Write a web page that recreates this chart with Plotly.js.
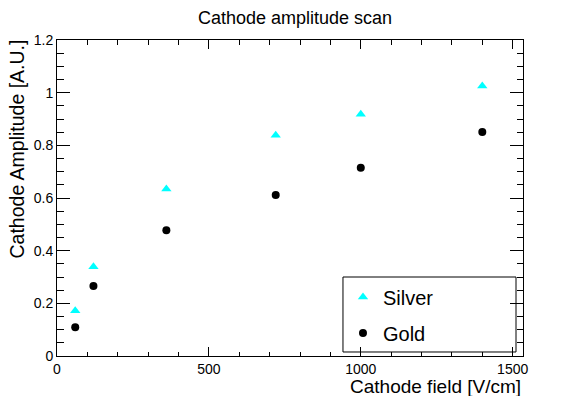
<!DOCTYPE html>
<html>
<head>
<meta charset="utf-8">
<script src="https://cdn.plot.ly/plotly-3.0.1.min.js"></script>
<style>html,body{margin:0;padding:0;background:#fff;}#chart{width:581px;height:396px;}</style>
</head>
<body>
<div id="chart"></div>
<script>
// Data
const fieldValues = [60, 120, 360, 720, 1000, 1400];
const silverAmplitude = [0.172, 0.339, 0.634, 0.838, 0.918, 1.025];
const goldAmplitude = [0.109, 0.266, 0.478, 0.611, 0.715, 0.851];
const seriesNames = ['Silver', 'Gold'];

const FONT = 'Liberation Sans, Arial, Helvetica, sans-serif';

const traces = [
  {
    x: fieldValues, y: silverAmplitude, name: seriesNames[0],
    type: 'scatter', mode: 'markers', legend: 'legend',
    marker: {symbol: 'triangle-up', size: 9, color: '#00ffff'}
  },
  {
    x: fieldValues, y: goldAmplitude, name: seriesNames[1],
    type: 'scatter', mode: 'markers', legend: 'legend2',
    marker: {symbol: 'circle', size: 8, color: '#000000'}
  }
];

const axisCommon = {
  showgrid: false, zeroline: false, showline: true, linecolor: '#000', linewidth: 1,
  mirror: 'allticks', ticks: 'inside', tickcolor: '#000', tickwidth: 1,
  tickfont: {family: FONT, size: 14, color: '#000'}
};

const layout = {
  width: 581, height: 396,
  margin: {l: 57, r: 58, t: 40, b: 40, pad: 0},
  paper_bgcolor: '#fff', plot_bgcolor: '#fff',
  font: {family: FONT, color: '#000'},
  showlegend: true,
  xaxis: Object.assign({}, axisCommon, {
    range: [0, 1534], tick0: 0, dtick: 500, ticklen: 9,
    minor: {dtick: 100, ticklen: 4.5, ticks: 'inside', tickcolor: '#000'}
  }),
  yaxis: Object.assign({}, axisCommon, {
    range: [0, 1.2], tick0: 0, dtick: 0.2, ticklen: 13,
    minor: {dtick: 0.05, ticklen: 6.5, ticks: 'inside', tickcolor: '#000'}
  }),
  legend: {
    x: 0.6137, y: 0.187, xanchor: 'left', yanchor: 'middle',
    bgcolor: 'rgba(0,0,0,0)', borderwidth: 0,
    font: {family: FONT, size: 20, color: '#000'}
  },
  legend2: {
    x: 0.6137, y: 0.073, xanchor: 'left', yanchor: 'middle',
    bgcolor: 'rgba(0,0,0,0)', borderwidth: 0,
    font: {family: FONT, size: 20, color: '#000'}
  },
  shapes: [{
    type: 'rect', xref: 'paper', yref: 'paper',
    x0: 0.6137, x1: 0.985, y0: 0.0127, y1: 0.25,
    line: {color: '#000', width: 1}, fillcolor: '#fff', layer: 'below'
  }],
  annotations: [
    {text: 'Cathode amplitude scan', xref: 'paper', yref: 'paper',
     x: (295 - 57) / 466, y: (356 - 18) / 316, xanchor: 'center', yanchor: 'middle',
     showarrow: false, font: {family: FONT, size: 18, color: '#000'}},
    {text: 'Cathode field [V/cm]', xref: 'paper', yref: 'paper',
     x: (523 - 57) / 466, y: (356 - 386) / 316, xanchor: 'right', yanchor: 'middle',
     showarrow: false, font: {family: FONT, size: 19, color: '#000'}},
    {text: 'Cathode Amplitude [A.U.]', xref: 'paper', yref: 'paper', textangle: -90,
     x: (16 - 57) / 466, y: (356 - 38) / 316, xanchor: 'center', yanchor: 'top',
     showarrow: false, font: {family: FONT, size: 19.5, color: '#000'}}
  ]
};

Plotly.newPlot('chart', traces, layout, {displayModeBar: false, staticPlot: true});
</script>
</body>
</html>
